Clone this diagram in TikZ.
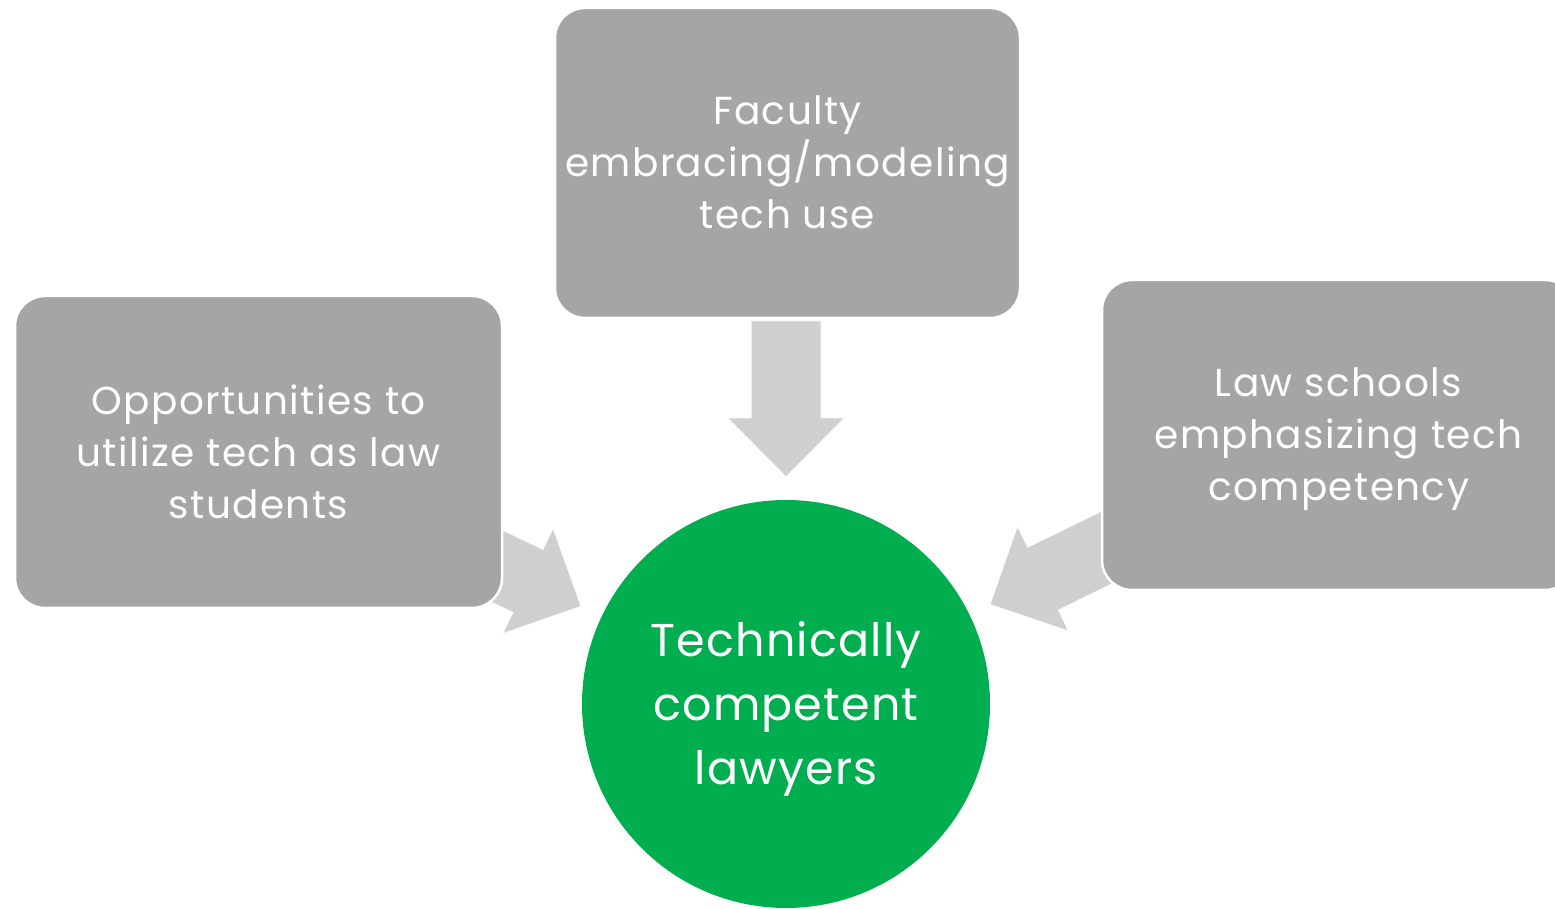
\documentclass[tikz,border=0pt]{standalone}
\usepackage{fontspec}
\setmainfont{Poppins}
\newfontfamily\boxfont[LetterSpace=3.6]{Poppins}
\newfontfamily\goalfont[LetterSpace=2.6]{Poppins}
\definecolor{boxgray}{HTML}{A5A5A5}
\definecolor{arrowgray}{HTML}{CFCFCF}
\definecolor{lawgreen}{HTML}{00AD4F}
\begin{document}
\begin{tikzpicture}[x=1pt,y=1pt,
  graybox/.style={rectangle, rounded corners=30pt, fill=boxgray, draw=white, line width=2.5pt},
  boxtext/.style={text=white, align=center, inner sep=0pt, font=\boxfont\fontsize{39}{52}\selectfont},
  goal/.style={circle, fill=lawgreen, inner sep=0pt, minimum size=408pt},
  goaltext/.style={text=white, align=center, inner sep=0pt, font=\goalfont\fontsize{46}{64}\selectfont},
  blockarrow/.style={fill=arrowgray, draw=white!92!arrowgray, line width=1pt}]
\useasboundingbox (0,0) rectangle (1555,909);
\node[goal] (goal) at (786,205) {};
\node[goaltext] (goaltxt) at ([yshift=-5pt]goal.center) {Technically\\competent\\lawyers};
% block arrows (drawn behind boxes)
\foreach \ang/\len in {90/383, 154.5/400, 26/400}{
  \begin{scope}[shift={(goal.center)}, rotate=\ang]
    \filldraw[blockarrow] (227,0) -- (286,58.5) -- (286,35) -- (\len,35)
      -- (\len,-35) -- (286,-35) -- (286,-58.5) -- cycle;
  \end{scope}
}
\node[graybox, minimum width=465pt, minimum height=310pt] (faculty) at (787.5,746) {};
\node[boxtext] (facultytxt) at ([yshift=1pt]faculty.center) {Faculty\\embracing/modeling\\tech use};
\node[graybox, minimum width=487pt, minimum height=312pt] (opps) at (258.5,457) {};
\node[boxtext] (oppstxt) at (opps.center) {Opportunities to\\utilize tech as law\\students};
\node[graybox, minimum width=473pt, minimum height=310pt] (schools) at (1338.5,474) {};
\node[boxtext] (schoolstxt) at ([yshift=-4pt]schools.center) {Law schools\\emphasizing tech\\competency};
\end{tikzpicture}
\end{document}
